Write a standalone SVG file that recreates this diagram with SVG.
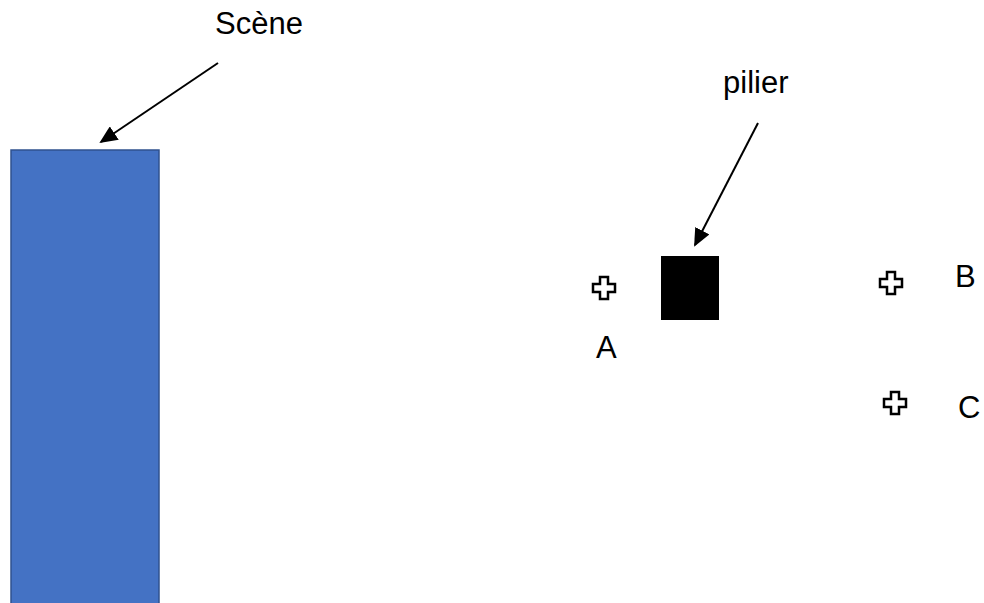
<svg xmlns="http://www.w3.org/2000/svg" width="984" height="603" viewBox="0 0 984 603">
<style>
text{font-family:"Liberation Sans",Arial,sans-serif;font-size:31px;fill:#000}
.cross{fill:#fff;stroke:#000;stroke-width:2.5}
.conn{stroke:#000;stroke-width:2;fill:none}
</style>
<defs>
<marker id="ah" markerWidth="9" markerHeight="8" refX="8" refY="4" orient="auto" markerUnits="strokeWidth">
<path d="M0,0 L9,4 L0,8 Z" fill="#000"/>
</marker>
<path id="crossShape" d="M-4,-11 H4 V-4 H11 V4 H4 V11 H-4 V4 H-11 V-4 H-4 Z"/>
</defs>
<rect width="984" height="603" fill="#fff"/>
<g id="scene">
<rect x="11" y="150" width="148" height="460" fill="#4472C4" stroke="#2F528F" stroke-width="1.5"/>
</g>
<g id="scene-label"><text x="215" y="34">Scène</text></g>
<g id="pilier">
<rect x="661" y="256" width="58" height="64" fill="#000"/>
</g>
<g id="pilier-label"><text x="723" y="93">pilier</text></g>
<g id="A"><use href="#crossShape" class="cross" transform="translate(604,288)"/><text x="596" y="358">A</text></g>
<g id="B"><use href="#crossShape" class="cross" transform="translate(891,283)"/><text x="955" y="287">B</text></g>
<g id="C"><use href="#crossShape" class="cross" transform="translate(895,403)"/><text x="958" y="418">C</text></g>
<g id="connectors">
<line class="conn" x1="218" y1="63" x2="101" y2="142" marker-end="url(#ah)"/>
<line class="conn" x1="758" y1="123" x2="695" y2="245" marker-end="url(#ah)"/>
</g>
</svg>
